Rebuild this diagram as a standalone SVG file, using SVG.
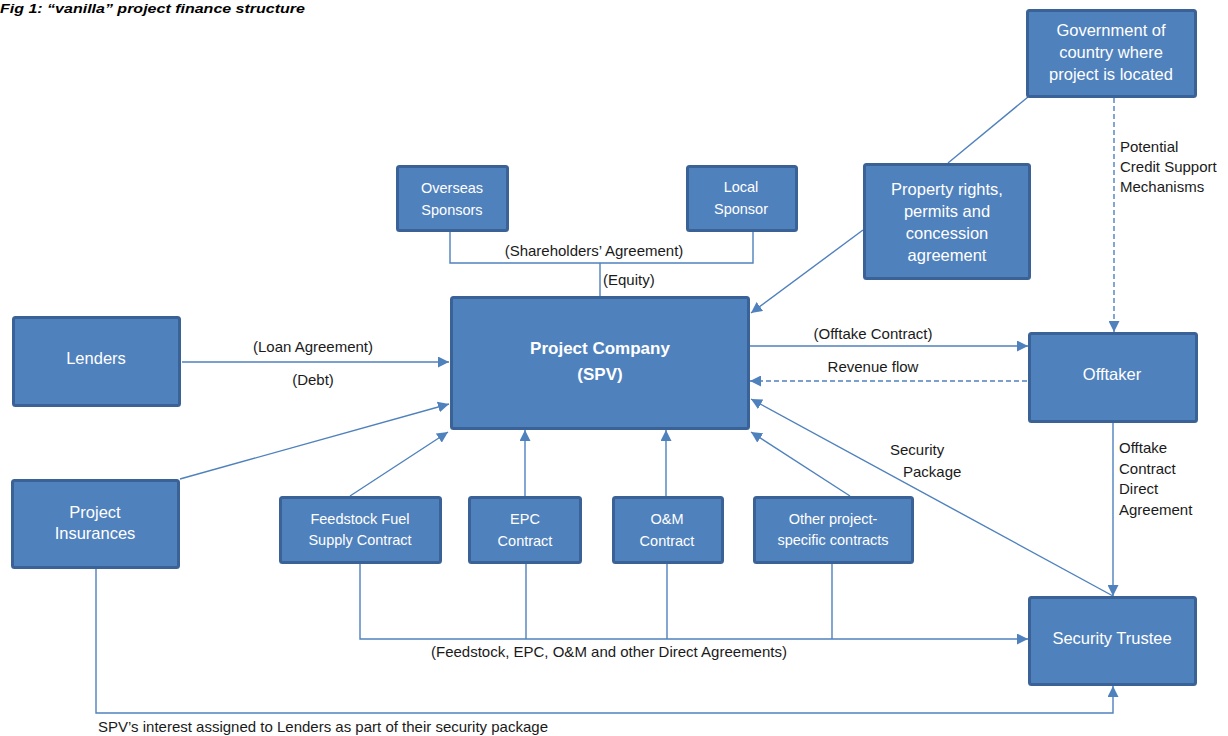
<svg xmlns="http://www.w3.org/2000/svg" width="1228" height="736" viewBox="0 0 1228 736">
<style>
.box{fill:#4F81BD;stroke:#3A6297;stroke-width:3}
.nt{font-family:"Liberation Sans",Arial,sans-serif;font-size:16.5px;fill:#FFFFFF;text-anchor:middle}
.ns{font-family:"Liberation Sans",Arial,sans-serif;font-size:14.5px;fill:#FFFFFF;text-anchor:middle}
.nb{font-family:"Liberation Sans",Arial,sans-serif;font-size:17px;font-weight:bold;fill:#FFFFFF;text-anchor:middle}
.lb{font-family:"Liberation Sans",Arial,sans-serif;font-size:15px;fill:#1A1A1A}
.ln{fill:none;stroke:#4F81BD;stroke-width:1.4}
.dash{stroke-dasharray:5 3}
.arr{marker-end:url(#ah)}
.title{font-family:"Liberation Sans",Arial,sans-serif;font-size:12.5px;font-weight:bold;font-style:italic;fill:#000}
</style>
<defs>
<marker id="ah" markerUnits="userSpaceOnUse" markerWidth="11" markerHeight="11" refX="11" refY="5.5" orient="auto">
<path d="M0,0 L11,5.5 L0,11 z" fill="#4F81BD"/>
</marker>
</defs>
<rect width="1228" height="736" fill="#FFFFFF"/>
<text class="title" x="0" y="13" textLength="305" lengthAdjust="spacingAndGlyphs">Fig 1:  “vanilla” project finance structure</text>

<g id="connectors">
<polyline class="ln" points="450,231 450,263 753,263 753,231"/>
<line class="ln" x1="600" y1="263" x2="600" y2="296"/>
<line class="ln arr" x1="182" y1="362" x2="449" y2="362"/>
<line class="ln arr" x1="180" y1="479" x2="449" y2="404"/>
<line class="ln arr" x1="350" y1="496" x2="448" y2="432"/>
<line class="ln arr" x1="525" y1="496" x2="525" y2="430"/>
<line class="ln arr" x1="666" y1="496" x2="666" y2="430"/>
<line class="ln arr" x1="850" y1="496" x2="751" y2="432"/>
<line class="ln arr" x1="863" y1="230" x2="751" y2="313"/>
<line class="ln" x1="1028" y1="97" x2="948" y2="163"/>
<line class="ln dash arr" x1="1114" y1="98" x2="1114" y2="332"/>
<line class="ln arr" x1="750" y1="346" x2="1028" y2="346"/>
<line class="ln dash arr" x1="1027" y1="381" x2="750" y2="381"/>
<line class="ln arr" x1="1113" y1="596" x2="751" y2="399"/>
<line class="ln arr" x1="1113" y1="422" x2="1113" y2="596"/>
<polyline class="ln arr" points="360,563 360,639 1028,639"/>
<line class="ln" x1="526" y1="563" x2="526" y2="639"/>
<line class="ln" x1="667" y1="563" x2="667" y2="639"/>
<line class="ln" x1="832" y1="563" x2="832" y2="639"/>
<polyline class="ln arr" points="96,568 96,713 1113,713 1113,686"/>
<text class="lb" x="594" y="256" text-anchor="middle">(Shareholders’ Agreement)</text>
<text class="lb" x="603" y="285">(Equity)</text>
<text class="lb" x="313" y="352" text-anchor="middle">(Loan Agreement)</text>
<text class="lb" x="313" y="385" text-anchor="middle">(Debt)</text>
<text class="lb" x="873" y="339" text-anchor="middle">(Offtake Contract)</text>
<text class="lb" x="873" y="372" text-anchor="middle">Revenue flow</text>
<text class="lb" x="890" y="455">Security</text>
<text class="lb" x="903" y="477">Package</text>
<text class="lb" x="1120" y="152">Potential</text>
<text class="lb" x="1120" y="172">Credit Support</text>
<text class="lb" x="1120" y="192">Mechanisms</text>
<text class="lb" x="1119" y="453">Offtake</text>
<text class="lb" x="1119" y="474">Contract</text>
<text class="lb" x="1119" y="494">Direct</text>
<text class="lb" x="1119" y="515">Agreement</text>
<text class="lb" x="609" y="657" text-anchor="middle">(Feedstock, EPC, O&amp;M and other Direct Agreements)</text>
<text class="lb" x="98" y="732">SPV’s interest assigned to Lenders as part of their security package</text>
</g>

<g id="government">
<rect class="box" x="1027.5" y="10.5" width="168" height="86" rx="2"/>
<text class="nt" x="1111" y="36">Government of</text>
<text class="nt" x="1111" y="58">country where</text>
<text class="nt" x="1111" y="80">project is located</text>
</g>
<g id="overseas-sponsors">
<rect class="box" x="397.5" y="166.5" width="110" height="64" rx="2"/>
<text class="ns" x="452" y="193">Overseas</text>
<text class="ns" x="452" y="215">Sponsors</text>
</g>
<g id="local-sponsor">
<rect class="box" x="687.5" y="166.5" width="109" height="64" rx="2"/>
<text class="ns" x="741" y="192">Local</text>
<text class="ns" x="741" y="214">Sponsor</text>
</g>
<g id="property-rights">
<rect class="box" x="864.5" y="164.5" width="165" height="114" rx="2"/>
<text class="nt" x="947" y="195">Property rights,</text>
<text class="nt" x="947" y="217">permits and</text>
<text class="nt" x="947" y="239">concession</text>
<text class="nt" x="947" y="261">agreement</text>
</g>
<g id="project-company">
<rect class="box" x="451.5" y="297.5" width="297" height="131" rx="2"/>
<text class="nb" x="600" y="354">Project Company</text>
<text class="nb" x="600" y="380">(SPV)</text>
</g>
<g id="lenders">
<rect class="box" x="13.5" y="317.5" width="166" height="88" rx="2"/>
<text class="nt" x="96" y="364">Lenders</text>
</g>
<g id="offtaker">
<rect class="box" x="1029.5" y="333.5" width="167" height="88" rx="2"/>
<text class="nt" x="1112" y="380">Offtaker</text>
</g>
<g id="project-insurances">
<rect class="box" x="12.5" y="480.5" width="166" height="87" rx="2"/>
<text class="nt" x="95" y="518">Project</text>
<text class="nt" x="95" y="539">Insurances</text>
</g>
<g id="feedstock">
<rect class="box" x="280.5" y="497.5" width="160" height="65" rx="2"/>
<text class="ns" x="360" y="524">Feedstock Fuel</text>
<text class="ns" x="360" y="545">Supply Contract</text>
</g>
<g id="epc">
<rect class="box" x="469.5" y="497.5" width="111" height="65" rx="2"/>
<text class="ns" x="525" y="524">EPC</text>
<text class="ns" x="525" y="546">Contract</text>
</g>
<g id="om">
<rect class="box" x="613.5" y="497.5" width="109" height="65" rx="2"/>
<text class="ns" x="667" y="524">O&amp;M</text>
<text class="ns" x="667" y="546">Contract</text>
</g>
<g id="other-contracts">
<rect class="box" x="754.5" y="497.5" width="158" height="65" rx="2"/>
<text class="ns" x="833" y="524">Other project-</text>
<text class="ns" x="833" y="545">specific contracts</text>
</g>
<g id="security-trustee">
<rect class="box" x="1029.5" y="597.5" width="166" height="87" rx="2"/>
<text class="nt" x="1112" y="644">Security Trustee</text>
</g>
</svg>
